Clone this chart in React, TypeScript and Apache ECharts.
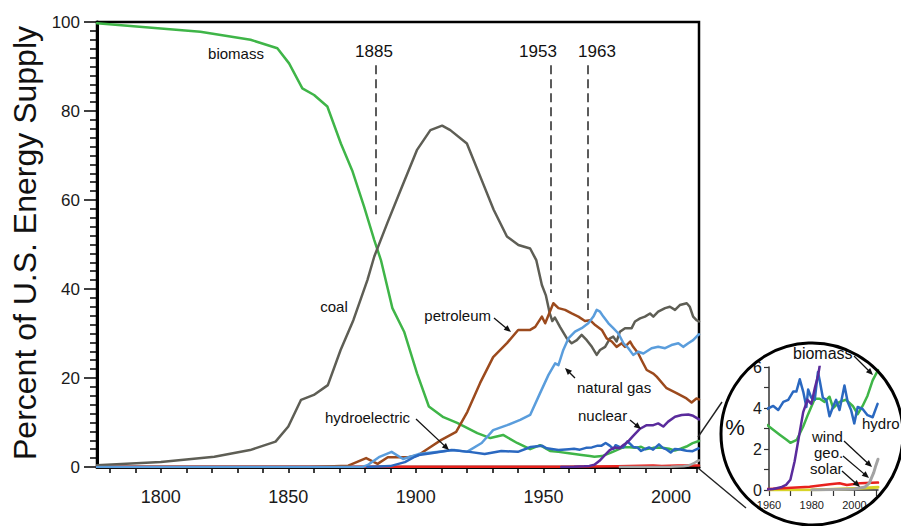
import React, { useEffect, useRef } from "react";
import * as echarts from "echarts";

// ---------------- DATA ----------------
const coalYears = [1775, 1800, 1821, 1835, 1845, 1850, 1855, 1860, 1865.5, 1870.5, 1875.5, 1881, 1883.7, 1888.8, 1894, 1900.4, 1905.7, 1910.3, 1913.5, 1920, 1925.3, 1930.5, 1935.7, 1940.2, 1944.8, 1947.2, 1949.4, 1951, 1952.5, 1953.5, 1954.5, 1956.5, 1959.2, 1961.1, 1963.1, 1965, 1967, 1969, 1970.9, 1972.2, 1974.2, 1976.1, 1977.4, 1978.7, 1980, 1982, 1984.6, 1985.9, 1987.9, 1989.8, 1991.8, 1993.1, 1995, 1997.7, 1999.6, 2001.6, 2003.5, 2006.2, 2007.4, 2008.7, 2010, 2011];
const coalValues = [0.4, 1.1, 2.3, 3.8, 5.7, 9.1, 15.1, 16.2, 18.4, 26.3, 33, 42, 47.3, 54.8, 62.2, 71.2, 75.7, 76.7, 75.7, 72.7, 65.2, 57.8, 51.8, 49.9, 49.1, 46.5, 40.9, 38.5, 34.5, 32.8, 33.6, 31.5, 28.9, 27.8, 28.5, 29.7, 28.5, 27, 25.2, 26.3, 27, 28.9, 29.3, 28.2, 30.4, 31.2, 31.2, 32.7, 33.4, 33.8, 34.5, 33.8, 34.9, 35.7, 36, 35.3, 36.4, 36.8, 36, 33.8, 33, 32.7];

const biomassYears = [1775, 1815.5, 1835.2, 1845.7, 1850.3, 1855.5, 1860.1, 1865.3, 1870.6, 1875.2, 1879.7, 1883.7, 1886.3, 1890.8, 1895.4, 1900.5, 1905.1, 1910.8, 1916.2, 1924.1, 1929.2, 1934.2, 1939.7, 1944.8, 1948.7, 1952.6, 1955.9, 1960, 1965, 1968.2, 1970, 1973, 1976, 1978.3, 1981.4, 1983.7, 1986, 1988.3, 1990, 1993, 1996, 1999.2, 2001.5, 2003.8, 2006.1, 2008.5, 2011];
const biomassValues = [99.7, 97.8, 96, 94.1, 90.7, 85.1, 83.6, 81, 72.7, 66.4, 58.5, 51, 46.5, 35.7, 30.4, 21, 13.6, 11.2, 9.9, 7.6, 6.5, 7.2, 5.4, 4.0, 4.9, 3.6, 3.4, 3.1, 2.7, 2.45, 2.3, 2.45, 3.1, 3.7, 4.45, 4.45, 4.3, 4.55, 4.0, 4.3, 4.4, 4.1, 3.7, 4.1, 4.6, 5.35, 5.85];

const petroleumYears = [1775, 1858, 1865, 1873.5, 1880.5, 1885, 1889, 1897, 1901, 1905, 1910, 1915.8, 1920.2, 1925.2, 1930.3, 1935.8, 1940.1, 1944.8, 1946.8, 1949.4, 1950.7, 1953.9, 1955.9, 1958.5, 1961.1, 1963.7, 1966.3, 1968.3, 1970.3, 1972.9, 1974.8, 1976.8, 1978.7, 1980.7, 1982, 1984, 1985.2, 1987.2, 1988.5, 1990.5, 1993.1, 1994.4, 1998.3, 2002.2, 2006.1, 2008.1, 2010, 2011];
const petroleumValues = [0, 0, 0.1, 0.3, 2.0, 0.7, 2.2, 2.2, 2.7, 4.2, 6.1, 7.9, 12.4, 18.9, 24.7, 27.9, 30.8, 30.8, 31.5, 33.8, 32.3, 36.8, 35.7, 35.3, 34.5, 33.8, 32.8, 33, 31.9, 30.8, 28.9, 28.2, 27, 27.8, 27, 28.2, 27, 25.5, 24, 21.8, 21, 20.3, 17.7, 16.6, 15.4, 14.5, 15.4, 15.2];

const gasYears = [1775, 1879, 1881, 1885.5, 1890.5, 1895, 1901, 1915, 1920, 1925.8, 1930.3, 1935.8, 1940.9, 1944.8, 1948.7, 1952, 1954.6, 1955.9, 1957.8, 1959.8, 1962.4, 1965, 1967.6, 1969.6, 1970.9, 1972.2, 1973.5, 1975.5, 1977.4, 1979.4, 1981.4, 1983.3, 1985.2, 1987.2, 1989.2, 1992.4, 1995, 1997.7, 2000.2, 2002.9, 2004.8, 2006.8, 2008.7, 2010.7, 2011];
const gasValues = [0, 0, 0.4, 2.2, 3.4, 1.8, 2.9, 3.8, 3.4, 5.4, 8.3, 9.4, 10.6, 11.7, 16.6, 20.7, 23.3, 22.9, 26.3, 28.9, 30.4, 31.2, 32.3, 33.8, 35.3, 34.9, 33.8, 32.3, 31.2, 30, 27.8, 26.7, 25.2, 25.9, 25.5, 26.7, 27, 26.7, 27.4, 27.8, 27, 27.8, 28.5, 29.7, 29.8];

const hydroYears = [1881, 1890, 1895.7, 1899.6, 1901.2, 1906, 1914, 1921, 1927, 1933.5, 1940, 1945, 1949.4, 1951.3, 1955.9, 1960, 1962, 1964.3, 1966.7, 1969, 1971.3, 1972.8, 1974.4, 1976, 1977.5, 1978.3, 1979.8, 1981.4, 1982.9, 1983.7, 1985.2, 1986.8, 1988.3, 1989.9, 1991.4, 1993, 1995.3, 1996.8, 1998.4, 1999.9, 2001.5, 2003.8, 2006.1, 2008.5, 2010.8];
const hydroValues = [0, 0.2, 1.1, 2.3, 2.7, 3.1, 3.8, 3.4, 2.9, 3.6, 3.4, 4.5, 4.8, 4.2, 3.8, 4.0, 4.1, 3.9, 4.3, 4.4, 4.8, 4.8, 5.4, 4.8, 4.05, 4.9, 4.5, 4.4, 5.75, 5.35, 4.5, 4.4, 3.6, 4.05, 4.4, 3.9, 5.1, 4.3, 3.9, 3.25, 4.05, 3.95, 3.65, 3.55, 4.2];

const nuclearYears = [1957, 1962, 1966, 1968, 1970, 1972, 1974, 1976, 1978, 1979.8, 1981.5, 1983, 1985.2, 1987.9, 1990.5, 1993.1, 1995, 1997, 1998.9, 2001.6, 2004.2, 2006.8, 2008.7, 2011];
const nuclearValues = [0, 0.05, 0.15, 0.25, 0.5, 1.4, 2.6, 3.8, 4.4, 4.2, 5.0, 5.6, 7.0, 8.6, 9.4, 9.4, 9.8, 9.1, 10.2, 11.3, 11.7, 11.8, 11.5, 10.7];

const geoYears = [1775, 1900, 1960, 1979, 1988.5, 1993, 1996.4, 2002.6, 2011];
const geoValues = [0.03, 0.03, 0.05, 0.16, 0.28, 0.33, 0.24, 0.33, 0.36];

const solarYears = [1960, 1980, 1987, 2002.6, 2011];
const solarValues = [0, 0.01, 0.03, 0.08, 0.14];

const windYears = [1980, 1990, 2000, 2005, 2007, 2008, 2009, 2010, 2011];
const windValues = [0, 0.02, 0.05, 0.15, 0.35, 0.6, 0.85, 1.2, 1.5];

const mainTickYears = [1780, 1790, 1800, 1810, 1820, 1830, 1840, 1850, 1860, 1870, 1880, 1890, 1900, 1910, 1920, 1930, 1940, 1950, 1960, 1970, 1980, 1990, 2000, 2010];
const mainLabelYears = [1800, 1850, 1900, 1950, 2000];
const insetTickYears = [1960, 1970, 1980, 1990, 2000, 2010];
const insetLabelYears = [1960, 1980, 2000];

const eventLabels = ["1885", "1953", "1963"];
const eventYears = [1884.1, 1953, 1967.5];
const eventTop = 90.3;
const eventBottoms = [56.2, 39.1, 35.3];

// ---------------- STYLE ----------------
const FONT = '"Liberation Sans", Arial, Helvetica, sans-serif';
const C = {
  coal: "#5e5e55",
  biomass: "#3fb548",
  petroleum: "#9c4a1d",
  gas: "#5a9ddc",
  hydro: "#2a68c0",
  nuclear: "#5a2b9c",
  geo: "#e8221e",
  solar: "#d8d428",
  wind: "#a3a3a3",
};

function zip(xs: number[], ys: number[]) {
  return xs.map((x, i) => [x, ys[i]]);
}

function line(name: string, xs: number[], ys: number[], color: string, width: number, idx: number, z: number, extra: any = {}) {
  return {
    type: "line",
    name,
    data: zip(xs, ys),
    xAxisIndex: idx,
    yAxisIndex: idx,
    showSymbol: false,
    symbol: "none",
    clip: true,
    silent: true,
    z,
    lineStyle: { color, width, join: "round", cap: "round" },
    itemStyle: { color },
    ...extra,
  };
}

function arrow(x1: number, y1: number, x2: number, y2: number) {
  const dx = x2 - x1;
  const dy = y2 - y1;
  const len = Math.hypot(dx, dy);
  const ux = dx / len;
  const uy = dy / len;
  const hl = 7;
  const hw = 3;
  const bx = x2 - ux * hl;
  const by = y2 - uy * hl;
  return [
    { type: "line", z: 100, silent: true, shape: { x1, y1, x2: bx + ux, y2: by + uy }, style: { stroke: "#111", lineWidth: 1.3 } },
    {
      type: "polygon",
      z: 100,
      silent: true,
      shape: { points: [[x2, y2], [bx - uy * hw, by + ux * hw], [bx + uy * hw, by - ux * hw]] },
      style: { fill: "#111" },
    },
  ];
}

function label(text: string, x: number, y: number, size: number, align = "left") {
  return {
    type: "text",
    x,
    y,
    z: 100,
    silent: true,
    style: { text, fontSize: size, fontFamily: FONT, fill: "#111", align, verticalAlign: "middle" },
  };
}

const plain = (v: number) => String(v);

export default function App() {
  const ref = useRef<HTMLDivElement>(null);
  useEffect(() => {
    if (!ref.current) return;
    const chart = echarts.init(ref.current, undefined, { renderer: "svg" });

    const axisLineStyle = { color: "#000", width: 3 };
    const option: any = {
      animation: false,
      backgroundColor: "#fff",
      textStyle: { fontFamily: FONT },
      grid: [
        { left: 97, top: 22, width: 602, height: 445, show: true, borderColor: "#000", borderWidth: 2.5, backgroundColor: "transparent" },
        { left: 769, top: 367, width: 109, height: 123, show: false },
      ],
      xAxis: [
        {
          type: "value",
          gridIndex: 0,
          min: 1775,
          max: 2011,
          splitLine: { show: false },
          axisLine: { onZero: false, lineStyle: axisLineStyle },
          axisTick: { show: true, customValues: mainTickYears, length: 6, lineStyle: { color: "#000", width: 1.5 } },
          axisLabel: { customValues: mainLabelYears, formatter: plain, fontSize: 18, color: "#1a1a1a", margin: 21, fontFamily: FONT },
        },
        {
          type: "value",
          gridIndex: 1,
          min: 1960,
          max: 2011,
          splitLine: { show: false },
          axisLine: { onZero: false, lineStyle: { color: "#333", width: 1.5 } },
          axisTick: { show: true, customValues: insetTickYears, length: 6, lineStyle: { color: "#333", width: 1.2 } },
          axisLabel: { customValues: insetLabelYears, formatter: plain, fontSize: 11, color: "#1a1a1a", margin: 9, fontFamily: FONT },
        },
      ],
      yAxis: [
        {
          type: "value",
          gridIndex: 0,
          min: 0,
          max: 100,
          interval: 20,
          splitLine: { show: false },
          axisLine: { show: true, lineStyle: axisLineStyle },
          axisTick: { show: true, length: 13, lineStyle: { color: "#000", width: 1.5 } },
          minorTick: { show: true, splitNumber: 10, length: 7, lineStyle: { color: "#000", width: 1.5 } },
          axisLabel: { fontSize: 17, color: "#1a1a1a", margin: 17, fontFamily: FONT, formatter: plain },
        },
        {
          type: "value",
          gridIndex: 1,
          min: 0,
          max: 6,
          interval: 2,
          splitLine: { show: false },
          axisLine: { show: true, lineStyle: { color: "#333", width: 1.5 } },
          axisTick: { show: true, length: 5, lineStyle: { color: "#333", width: 1.2 } },
          minorTick: { show: true, splitNumber: 2, length: 5, lineStyle: { color: "#333", width: 1.2 } },
          axisLabel: { fontSize: 16, color: "#1a1a1a", margin: 7, fontFamily: FONT, formatter: plain },
        },
      ],
      series: [
        line("geo", geoYears, geoValues, C.geo, 2.5, 0, 2),
        line("wind", windYears, windValues, C.wind, 2.5, 0, 2),
        line("biomass", biomassYears, biomassValues, C.biomass, 2.5, 0, 3),
        line("coal", coalYears, coalValues, C.coal, 2.5, 0, 3, {
          markLine: {
            silent: true,
            symbol: ["none", "none"],
            label: { show: false },
            lineStyle: { type: [9, 5], color: "#333", width: 1.6 },
            data: eventYears.map((yr, i) => [
              { coord: [yr, eventTop] },
              { coord: [yr, eventBottoms[i]] },
            ]),
          },
        }),
        line("petroleum", petroleumYears, petroleumValues, C.petroleum, 2.5, 0, 3),
        line("natural gas", gasYears, gasValues, C.gas, 2.5, 0, 3),
        line("hydroelectric", hydroYears, hydroValues, C.hydro, 2.5, 0, 4),
        line("nuclear", nuclearYears, nuclearValues, C.nuclear, 2.5, 0, 4),
        // inset
        line("solar-inset", solarYears, solarValues, C.solar, 3, 1, 2),
        line("geo-inset", geoYears, geoValues, C.geo, 2.5, 1, 3),
        line("wind-inset", windYears, windValues, C.wind, 3, 1, 3),
        line("biomass-inset", biomassYears, biomassValues, C.biomass, 2.5, 1, 3),
        line("hydro-inset", hydroYears, hydroValues, C.hydro, 2.5, 1, 4),
        line("nuclear-inset", nuclearYears, nuclearValues, C.nuclear, 2.5, 1, 4),
      ],
      graphic: [
        {
          type: "text",
          x: 25,
          y: 243,
          rotation: Math.PI / 2,
          z: 100,
          silent: true,
          style: { text: "Percent of U.S. Energy Supply", fontSize: 32, fontFamily: FONT, fill: "#111", align: "center", verticalAlign: "middle" },
        },
        { type: "circle", z: 50, silent: true, shape: { cx: 812, cy: 434, r: 91 }, style: { fill: "none", stroke: "#000", lineWidth: 3 } },
        { type: "line", z: 50, silent: true, shape: { x1: 698, y1: 437, x2: 722, y2: 402 }, style: { stroke: "#222", lineWidth: 1.4 } },
        { type: "line", z: 50, silent: true, shape: { x1: 698, y1: 468, x2: 746, y2: 508 }, style: { stroke: "#222", lineWidth: 1.4 } },
        label(eventLabels[0], 374, 51, 17, "center"),
        label(eventLabels[1], 538, 51, 17, "center"),
        label(eventLabels[2], 597, 51, 17, "center"),
        label("biomass", 236, 53, 15, "center"),
        label("coal", 334, 306, 15, "center"),
        label("petroleum", 491, 315, 15, "right"),
        label("natural gas", 577, 387, 15, "left"),
        label("nuclear", 578, 415, 15, "left"),
        label("hydroelectric", 325, 417, 15, "left"),
        ...arrow(494, 318, 511, 332),
        ...arrow(575, 378, 565, 368),
        ...arrow(630, 420, 641, 429),
        ...arrow(416, 419, 449, 450),
        label("%", 735, 427, 22, "center"),
        label("biomass", 793, 353, 16, "left"),
        label("hydro", 862, 423, 15, "left"),
        label("wind", 812, 436, 15, "left"),
        label("geo.", 814, 452, 15, "left"),
        label("solar", 810, 468, 15, "left"),
        ...arrow(854, 356, 873, 375),
        ...arrow(844, 441, 872, 467),
        ...arrow(843, 456, 869, 478),
        ...arrow(842, 471, 860, 487),
      ],
    };
    chart.setOption(option);
    return () => chart.dispose();
  }, []);

  return (
    <div
      ref={ref}
      style={{ position: "fixed", left: 0, top: 0, width: 901, height: 526, background: "#fff" }}
    />
  );
}
